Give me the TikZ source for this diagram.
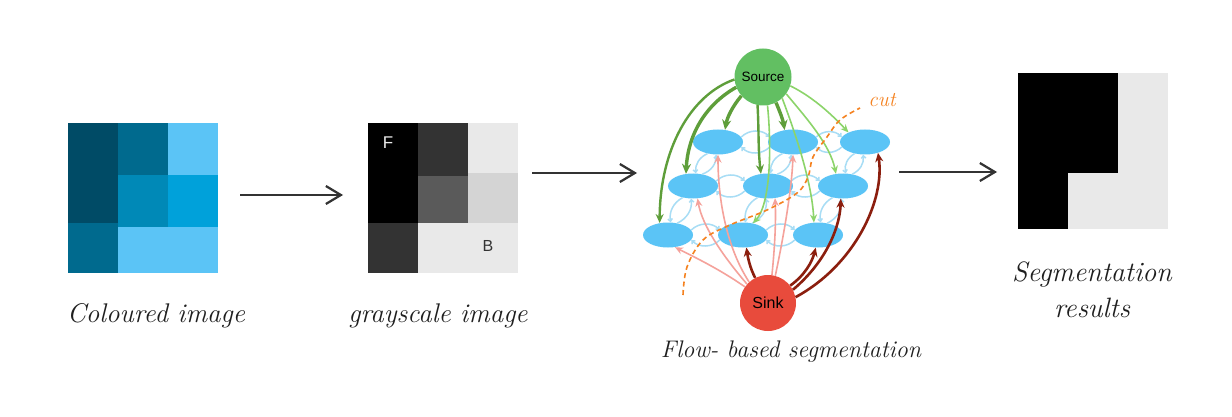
\documentclass[tikz,border=0pt]{standalone}
\usepackage{fontspec}
\usetikzlibrary{arrows.meta,shapes.geometric}
\newfontfamily\lblsans{Liberation Sans}
\definecolor{cA}{HTML}{004B66}
\definecolor{cB}{HTML}{006A8E}
\definecolor{cC}{HTML}{0089B7}
\definecolor{cD}{HTML}{00A1DA}
\definecolor{cE}{HTML}{5BC4F6}
\definecolor{gA}{HTML}{333333}
\definecolor{gB}{HTML}{5A5A5A}
\definecolor{gC}{HTML}{D4D4D4}
\definecolor{gD}{HTML}{E9E9E9}
\definecolor{arrowgray}{HTML}{333333}
\definecolor{srcgreen}{HTML}{62BF62}
\definecolor{sinkred}{HTML}{E84B3C}
\definecolor{ellblue}{HTML}{5BC4F6}
\definecolor{linkblue}{HTML}{A8DDF5}
\definecolor{gdk}{HTML}{5E9E3A}
\definecolor{glt}{HTML}{8CD46A}
\definecolor{pinkc}{HTML}{F5A29B}
\definecolor{redc}{HTML}{8B1E0E}
\definecolor{cutc}{HTML}{F58220}
\begin{document}
\begin{tikzpicture}[x=1pt,y=1pt,
  bigarrow/.style={draw=arrowgray,line width=2.2pt,-{Straight Barb[length=15pt,width=18pt]}},
  imgbox/.style={rectangle,inner sep=0pt,draw=none},
  handtext/.style={font=\itshape\fontsize{#1}{#1}\selectfont,text=black!88},
  ell/.style={ellipse,fill=ellblue,minimum width=50pt,minimum height=25pt,inner sep=0pt},
  terminal/.style={circle,inner sep=0pt,minimum size=57pt},
  lnk/.style={draw=linkblue,line width=1.5pt,-{Straight Barb[length=2.5pt,width=4.5pt]}},
  gthick/.style={draw=gdk,line width=3.4pt,-{Stealth[length=10pt,width=9pt]}},
  gmed/.style={draw=gdk,line width=2.4pt,-{Stealth[length=9pt,width=8pt]}},
  glight/.style={draw=glt,line width=1.6pt,-{Stealth[length=8pt,width=7pt]}},
  pinkarrow/.style={draw=pinkc,line width=1.6pt,-{Stealth[length=8pt,width=7pt]}},
  redarrow/.style={draw=redc,line width=2.6pt,-{Stealth[length=9pt,width=8pt]}},
  cutline/.style={draw=cutc,line width=1.6pt,dash pattern=on 5pt off 3.5pt}]
\useasboundingbox[fill=white] (0,0) rectangle (1232,-417);

% ---------- coloured image
\fill[cA] (68,-123) rectangle (118,-223);
\fill[cB] (68,-223) rectangle (118,-273);
\fill[cB] (118,-123) rectangle (168,-175);
\fill[cC] (118,-175) rectangle (168,-227);
\fill[cE] (168,-123) rectangle (218,-175);
\fill[cD] (168,-175) rectangle (218,-227);
\fill[cE] (118,-227) rectangle (218,-273);
\node[imgbox,minimum width=150pt,minimum height=150pt] (cimg) at (143,-198) {};

% ---------- grayscale image
\fill[black] (368,-123) rectangle (418,-223);
\fill[gA] (368,-223) rectangle (418,-273);
\fill[gA] (418,-123) rectangle (468,-176);
\fill[gB] (418,-176) rectangle (468,-223);
\fill[gD] (468,-123) rectangle (518,-173);
\fill[gC] (468,-173) rectangle (518,-223);
\fill[gD] (418,-223) rectangle (518,-273);
\node[imgbox,minimum width=150pt,minimum height=150pt] (gimg) at (443,-198) {};
\node[text=white!92!black,font=\lblsans\fontsize{17}{17}\selectfont] (lf) at (388,-143) {F};
\node[text=gA,font=\lblsans\fontsize{16}{16}\selectfont] (lb) at (488,-246) {B};

% ---------- result image
\fill[gD] (1018,-73) rectangle (1168,-229);
\fill[black] (1018,-73) rectangle (1118,-173);
\fill[black] (1018,-173) rectangle (1068,-229);
\node[imgbox,minimum width=150pt,minimum height=156pt] (rimg) at (1093,-151) {};

% ---------- main arrows
\coordinate (a1s) at (240,-195); \coordinate (a1e) at (343,-195);
\coordinate (a2s) at (532,-173); \coordinate (a2e) at (637,-173);
\coordinate (a3s) at (899,-172); \coordinate (a3e) at (997,-172);
\draw[bigarrow] (a1s) -- (a1e);
\draw[bigarrow] (a2s) -- (a2e);
\draw[bigarrow] (a3s) -- (a3e);

% ---------- labels
\node[handtext=27] (t1) at (156,-316) {Coloured image};
\node[handtext=27] (t2) at (438,-316) {grayscale image};
\node[handtext=24] (t3) at (791,-352) {Flow- based segmentation};
\node[handtext=28,align=center] (t4) at (1092,-290) {Segmentation\\[8pt]results};

% ---------- graph
\node[terminal,fill=srcgreen,font=\lblsans\fontsize{13.5}{13.5}\selectfont] (src) at (763,-77) {Source};
\node[terminal,fill=sinkred,minimum size=56pt,font=\lblsans\fontsize{16}{16}\selectfont] (snk) at (768,-303) {Sink};

\node[ell] (e11) at (718,-142) {};
\node[ell] (e12) at (793,-142) {};
\node[ell] (e13) at (865,-142) {};
\node[ell] (e21) at (693,-186) {};
\node[ell] (e22) at (768,-186) {};
\node[ell] (e23) at (843,-186) {};
\node[ell] (e31) at (668,-235) {};
\node[ell] (e32) at (743,-235) {};
\node[ell] (e33) at (818,-235) {};

% neighbour links (horizontal)
\foreach \a/\b in {e11/e12,e12/e13,e21/e22,e22/e23,e31/e32,e32/e33}{
  \draw[lnk] (\a.12) to[bend left=45] (\b.168);
  \draw[lnk] (\b.192) to[bend left=45] (\a.-12);
}
% neighbour links (vertical)
\foreach \a/\b in {e11/e21,e12/e22,e13/e23,e21/e31,e22/e32,e23/e33}{
  \draw[lnk] (\a.228) to[bend right=35] (\b.78);
  \draw[lnk] (\b.52) to[bend right=35] (\a.262);
}

% source edges
\draw[gmed]   (src.185) .. controls (690,-95) and (660,-150) .. (e31.125);
\draw[gthick] (src.201) .. controls (705,-105) and (688,-135) .. (e21.120);
\draw[gthick] (src.221) .. controls (732,-107) and (727,-118) .. (e11.60);
\draw[gmed]   (src.259) .. controls (759,-130) and (758,-150) .. (e22.120);
\draw[gthick] (src.297) .. controls (780,-112) and (783,-120) .. (e12.125);
\draw[glight] (src.279) .. controls (772,-150) and (770,-205) .. (e32.50);
\draw[glight] (src.324) .. controls (808,-120) and (830,-145) .. (e23.120);
\draw[glight] (src.312) .. controls (798,-140) and (812,-185) .. (e33.108);
\draw[glight] (src.342) .. controls (815,-98) and (835,-118) .. (e13.150);

% sink edges
\draw[pinkarrow] (snk.145) .. controls (718,-268) and (690,-255) .. (e31.-60);
\draw[pinkarrow] (snk.138) .. controls (722,-255) and (702,-225) .. (e21.-70);
\draw[pinkarrow] (snk.132) .. controls (725,-245) and (718,-195) .. (e11.-90);
\draw[redarrow]  (snk.117) .. controls (750,-268) and (748,-258) .. (e32.-75);
\draw[pinkarrow] (snk.82)  .. controls (775,-245) and (776,-220) .. (e22.-60);
\draw[pinkarrow] (snk.75)  .. controls (785,-230) and (792,-185) .. (e12.-90);
\draw[redarrow]  (snk.38)  .. controls (805,-275) and (812,-262) .. (e33.-100);
\draw[redarrow]  (snk.28)  .. controls (828,-260) and (840,-225) .. (e23.-100);
\draw[redarrow]  (snk.12)  .. controls (855,-265) and (885,-200) .. (e13.-40);

% cut
\draw[cutline] plot[smooth,tension=0.6] coordinates {(683,-295) (687,-267) (703,-240) (730,-225) (767,-210) (797,-193) (808,-177) (813,-157) (827,-137) (840,-120) (860,-108)};
\node[text=cutc,font=\itshape\fontsize{21}{21}\selectfont] (cutlbl) at (882,-100) {cut};
\end{tikzpicture}
\end{document}
